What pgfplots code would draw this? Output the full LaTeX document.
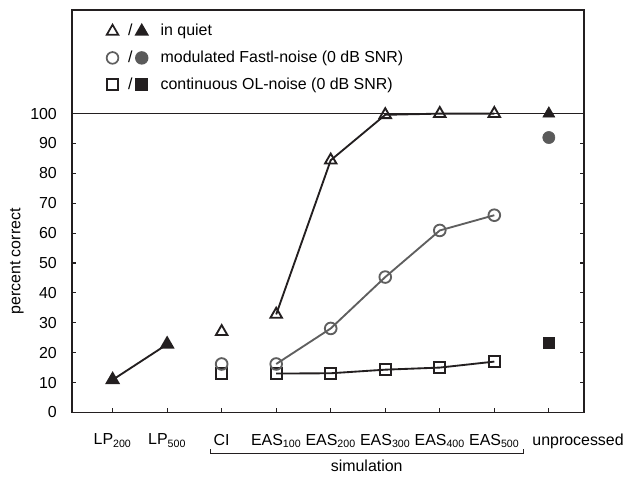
\documentclass[border=0pt]{standalone}
\usepackage{fontspec}
\setmainfont{Liberation Sans}
\usepackage{pgfplots}
\pgfplotsset{compat=1.18}
\definecolor{ink}{HTML}{231F20}
\definecolor{grayc}{HTML}{5F5F5F}
\definecolor{grayf}{HTML}{5A5A5A}
\newcommand{\ff}{\fontsize{12}{14}\selectfont}
\begin{document}
\ff
\begin{tikzpicture}
\begin{axis}[name=ax, scale only axis, width=385.5pt, height=303pt,
  xmin=-0.75, xmax=8.64, ymin=0, ymax=134.7,
  xtick={0,...,8},
  xticklabels={LP\textsubscript{200}, LP\textsubscript{500}, CI, EAS\textsubscript{100}, EAS\textsubscript{200}, EAS\textsubscript{300}, EAS\textsubscript{400}, EAS\textsubscript{500}, \hspace*{44pt}unprocessed},
  ytick={0,10,...,100},
  xtick pos=left, ytick pos=both, yticklabel pos=left,
  tick align=inside, major tick length=3pt,
  tick style={ink, line width=0.8pt},
  axis line style={ink, line width=1.2pt},
  /pgf/number format/assume math mode=true,
  ticklabel style={font=\ff},
  yticklabel style={xshift=-7pt},
  xticklabel style={yshift=-12pt},
  ylabel={percent correct},
  ylabel style={font=\ff, at={(axis description cs:-0.107,0.375)}, anchor=center},
  legend cell align=left,
  legend style={at={(axis description cs:0.06,0.978)}, anchor=north west, draw=none, fill=none, font=\ff, row sep=5.5pt},
  clip=false,
]
\addlegendimage{legend image code/.code={
  \draw[ink, line width=1.3pt, fill=white, mark=triangle, mark size=5pt] plot coordinates {(0pt,0pt)};
  \node[inner sep=0pt] at (11.5pt,0pt) {/};
  \draw[ink, line width=1.3pt, fill=ink, mark=triangle*, mark size=5pt] plot coordinates {(22pt,0pt)};
  \path (34pt,0pt);}}
\addlegendentry{in quiet}
\addlegendimage{legend image code/.code={
  \draw[grayc, line width=1.3pt, fill=white, mark=o, mark size=4.4pt] plot coordinates {(0pt,0pt)};
  \node[inner sep=0pt] at (11.5pt,0pt) {/};
  \draw[grayf, line width=1.3pt, fill=grayf, mark=*, mark size=4.4pt] plot coordinates {(22pt,0pt)};
  \path (34pt,0pt);}}
\addlegendentry{modulated Fastl-noise (0 dB SNR)}
\addlegendimage{legend image code/.code={
  \draw[ink, line width=1.3pt, fill=white, mark=square, mark size=4.1pt] plot coordinates {(0pt,0pt)};
  \node[inner sep=0pt] at (11.5pt,0pt) {/};
  \draw[ink, line width=1.3pt, fill=ink, mark=square*, mark size=4.1pt] plot coordinates {(22pt,0pt)};
  \path (34pt,0pt);}}
\addlegendentry{continuous OL-noise (0 dB SNR)}

\draw[ink, line width=1.2pt] (axis cs:-0.75,100) -- (axis cs:8.64,100);

% squares (OL-noise)
\addplot[forget plot, only marks, ink, line width=1.4pt, mark=square, mark size=4.1pt, mark options={fill=white}] coordinates {(2,13.1)};
\addplot[forget plot, ink, line width=1.4pt, mark=square, mark size=4.1pt, mark options={fill=white}] coordinates {(3,13.0) (4,13.1) (5,14.3) (6,15.0) (7,17.0)};
\addplot[forget plot, only marks, ink, mark=square*, mark size=4.1pt, mark options={fill=ink}] coordinates {(8,23.3)};
% circles (Fastl-noise)
\addplot[forget plot, only marks, grayc, line width=1.4pt, mark=o, mark size=4.4pt, mark options={fill=white}] coordinates {(2,16.2)};
\addplot[forget plot, grayc, line width=1.4pt, mark=o, mark size=4.4pt, mark options={fill=white}] coordinates {(3,16.2) (4,28.1) (5,45.3) (6,60.9) (7,66.0)};
\addplot[forget plot, only marks, grayf, mark=*, mark size=4.6pt, mark options={fill=grayf}] coordinates {(8,92.0)};
% triangles (quiet)
\addplot[forget plot, ink, line width=1.4pt, mark=triangle*, mark size=5.2pt, mark options={fill=ink}] coordinates {(0,10.9) (1,22.8)};
\addplot[forget plot, only marks, ink, line width=1.4pt, mark=triangle, mark size=5pt, mark options={fill=white}] coordinates {(2,27.0)};
\addplot[forget plot, ink, line width=1.4pt, mark=triangle, mark size=5pt, mark options={fill=white}] coordinates {(3,32.8) (4,84.4) (5,99.6) (6,100) (7,100)};
\addplot[forget plot, only marks, ink, mark=triangle*, mark size=5.2pt, mark options={fill=ink}] coordinates {(8,100)};

\draw[ink, line width=0.8pt] ([yshift=-27.75pt]axis cs:1.79,0) -- ([yshift=-30.75pt]axis cs:1.79,0) -- ([yshift=-30.75pt]axis cs:7.53,0) -- ([yshift=-27.75pt]axis cs:7.53,0);
\node[font=\ff] at ([yshift=-40.5pt]axis cs:4.66,0) {simulation};
\end{axis}
\path ([xshift=-54pt,yshift=-46.5pt]ax.south west) rectangle ([xshift=32.25pt,yshift=7.5pt]ax.north east);
\end{tikzpicture}
\end{document}
